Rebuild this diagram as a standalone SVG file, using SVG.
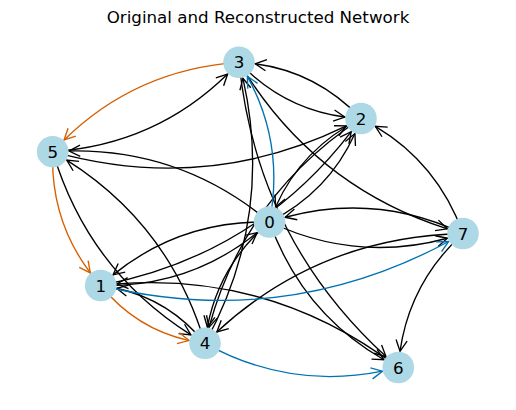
<svg xmlns="http://www.w3.org/2000/svg" width="516" height="410" viewBox="0 0 516 410">
<style>
.e{fill:none;stroke:#000;stroke-width:1.35;marker-end:url(#ak)}
.o{stroke:#D55E00;marker-end:url(#ao)}
.b{stroke:#0072B2;marker-end:url(#ab)}
.n circle{fill:#add8e6}
.n text{font-family:"DejaVu Sans",sans-serif;font-size:16.7px;text-anchor:middle;fill:#000}
.t{font-family:"DejaVu Sans",sans-serif;font-size:16.7px;text-anchor:middle;fill:#000}
</style>
<defs>
<marker id="ak" viewBox="0 0 14 14" markerUnits="userSpaceOnUse" markerWidth="14" markerHeight="14" refX="12.1" refY="7" orient="auto" overflow="visible"><path d="M1,1.44 L12.1,7 L1,12.56" fill="none" stroke="#000" stroke-width="1.35"/></marker>
<marker id="ao" viewBox="0 0 14 14" markerUnits="userSpaceOnUse" markerWidth="14" markerHeight="14" refX="12.1" refY="7" orient="auto" overflow="visible"><path d="M1,1.44 L12.1,7 L1,12.56" fill="none" stroke="#D55E00" stroke-width="1.35"/></marker>
<marker id="ab" viewBox="0 0 14 14" markerUnits="userSpaceOnUse" markerWidth="14" markerHeight="14" refX="12.1" refY="7" orient="auto" overflow="visible"><path d="M1,1.44 L12.1,7 L1,12.56" fill="none" stroke="#0072B2" stroke-width="1.35"/></marker>
</defs>
<rect width="516" height="410" fill="#fff"/>
<text class="t" x="258" y="22.7">Original and Reconstructed Network</text>
<g id="edges">
<path class="e" d="M361,118.5 Q316.92,71.99 255.19,63.78"/>
<path class="e" d="M239,62.3 Q283.08,108.81 344.81,117.02"/>
<path class="e" d="M52.7,151.7 Q155.5,144.81 227.65,74.04"/>
<path class="e" d="M239,62.3 Q256.78,238.55 386.02,356.62"/>
<path class="e" d="M239,62.3 Q312.53,185.61 447.3,228.8"/>
<path class="e" d="M463,233.5 Q437.79,163.36 375.29,126.3"/>
<path class="e" d="M463,233.5 Q409.94,281.99 400.01,351.31"/>
<path class="e" d="M463,233.5 Q376.01,192.56 285.12,217.27"/>
<path class="e" d="M269.5,222 Q356.49,262.94 447.38,238.23"/>
<path class="e" d="M463,233.5 Q320.29,236.62 216.83,331.97"/>
<path class="e" d="M269.5,222 Q180.65,220.16 113.06,274.86"/>
<path class="e" d="M100.7,285.5 Q189.55,287.34 257.14,232.64"/>
<path class="e" d="M100.7,285.5 Q256.15,255.62 351.25,131.68"/>
<path class="e" d="M52.7,151.7 Q88.16,270.06 190.97,334.88"/>
<path class="e" d="M205,343.3 Q169.54,224.94 66.73,160.12"/>
<path class="e" d="M205,343.3 Q169.63,299.93 116.69,288.26"/>
<path class="e" d="M205,343.3 Q274.24,216.84 242.91,78.2"/>
<path class="e" d="M269.5,222 Q181.5,148.77 69.03,150.99"/>
<path class="e" d="M52.7,151.7 Q205.55,194.53 346.39,125.93"/>
<path class="e" d="M269.5,222 Q328.58,192.26 354.93,133.59"/>
<path class="e" d="M361,118.5 Q301.92,148.24 275.57,206.91"/>
<path class="e" d="M361,118.5 Q244.93,195.15 208.98,327.42"/>
<path class="e" d="M269.5,222 Q219.29,264.43 207.38,327.22"/>
<path class="e" d="M269.5,222 Q302.02,312.74 383.92,359.77"/>
<path class="e" d="M398.3,367.5 Q272.47,271.97 117.02,283.95"/>
<path class="e o" d="M239,62.3 Q136.2,69.19 64.05,139.96"/>
<path class="e o" d="M52.7,151.7 Q50.24,219.95 90.38,272.93"/>
<path class="e o" d="M100.7,285.5 Q136.07,328.87 189.01,340.54"/>
<path class="e b" d="M269.5,222 Q284.62,144.15 247.33,76.31"/>
<path class="e b" d="M100.7,285.5 Q284.23,330.01 448.67,241.49"/>
<path class="e b" d="M205,343.3 Q289.59,390.07 382.4,371.2"/>
</g>
<g id="node-0" class="n"><circle cx="269.5" cy="222" r="15.8"/><text x="269.5" y="228">0</text></g>
<g id="node-1" class="n"><circle cx="100.7" cy="285.5" r="15.8"/><text x="100.7" y="291.5">1</text></g>
<g id="node-2" class="n"><circle cx="361" cy="118.5" r="15.8"/><text x="361" y="124.5">2</text></g>
<g id="node-3" class="n"><circle cx="239" cy="62.3" r="15.8"/><text x="239" y="68.3">3</text></g>
<g id="node-4" class="n"><circle cx="205" cy="343.3" r="15.8"/><text x="205" y="349.3">4</text></g>
<g id="node-5" class="n"><circle cx="52.7" cy="151.7" r="15.8"/><text x="52.7" y="157.7">5</text></g>
<g id="node-6" class="n"><circle cx="398.3" cy="367.5" r="15.8"/><text x="398.3" y="373.5">6</text></g>
<g id="node-7" class="n"><circle cx="463" cy="233.5" r="15.8"/><text x="463" y="239.5">7</text></g>
</svg>
